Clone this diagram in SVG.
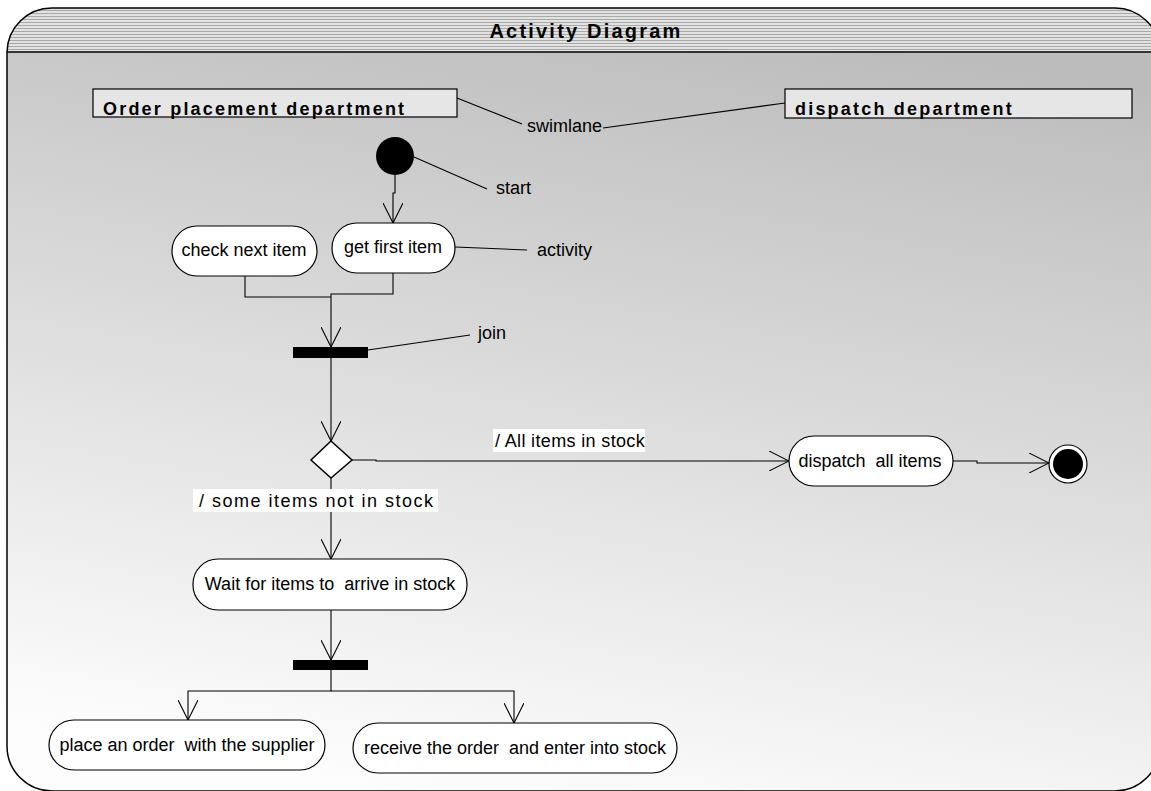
<svg xmlns="http://www.w3.org/2000/svg" width="1151" height="791" viewBox="0 0 1151 791">
<style>
text{font-family:"Liberation Sans",Arial,sans-serif;font-size:18px;fill:#000}
.b{font-weight:bold;letter-spacing:2.2px}
.pill{fill:#fff;stroke:#000;stroke-width:1.2}
.ln{fill:none;stroke:#000;stroke-width:1.1}
.lane{fill:#e6e6e6;stroke:#000;stroke-width:1.2}
.lbl{fill:#fff}
</style>
<defs>
<linearGradient id="body" x1="0.6" y1="0" x2="0.35" y2="1">
<stop offset="0" stop-color="#bcbcbc"/>
<stop offset="1" stop-color="#fdfdfd"/>
</linearGradient>
<pattern id="stripes" x="0" y="8" width="10" height="3" patternUnits="userSpaceOnUse">
<rect width="10" height="3" fill="#e2e2e2"/>
<rect y="2" width="10" height="1" fill="#a8a8a8"/>
</pattern>
<clipPath id="frameClip">
<path d="M7,52 A45,45 0 0 1 52,8 H1114 A45,45 0 0 1 1160,52 V746 A45,45 0 0 1 1115,791 H52 A45,45 0 0 1 7,746 Z"/>
</clipPath>
<marker id="arr" markerUnits="userSpaceOnUse" viewBox="0 0 20 20" refX="20" refY="10" markerWidth="20" markerHeight="20" orient="auto">
<path d="M0,0 L20,10 L0,20" fill="none" stroke="#000" stroke-width="1.1"/>
</marker>
</defs>

<g id="frame">
<path d="M7,52 A45,45 0 0 1 52,8 H1114 A45,45 0 0 1 1160,52 V746 A45,45 0 0 1 1115,791 H52 A45,45 0 0 1 7,746 Z" fill="url(#body)"/>
<rect x="0" y="8" width="1160" height="44" fill="url(#stripes)" clip-path="url(#frameClip)"/>
<line x1="7" y1="52" x2="1160" y2="52" stroke="#000" stroke-width="1.5"/>
<path d="M7,52 A45,45 0 0 1 52,8 H1114 A45,45 0 0 1 1160,52 V746 A45,45 0 0 1 1115,791 H52 A45,45 0 0 1 7,746 Z" fill="none" stroke="#000" stroke-width="1.5"/>
<text x="586" y="38" class="b" style="font-size:20px" text-anchor="middle">Activity Diagram</text>
</g>

<g id="lane-order">
<rect class="lane" x="93" y="89" width="364" height="28"/>
<text class="b" x="103" y="115">Order placement department</text>
</g>
<g id="lane-dispatch">
<rect class="lane" x="785" y="89" width="347" height="29"/>
<text class="b" x="795" y="115">dispatch department</text>
</g>

<g id="connectors">
<path class="ln" d="M457,98 L522,124"/>
<path class="ln" d="M603,128 L785,103"/>
<path class="ln" d="M414,157 L487,189"/>
<path class="ln" d="M455,247 L527,250"/>
<path class="ln" d="M368,350 L470,335"/>
<path class="ln" d="M395,175 V193 H393 V223" marker-end="url(#arr)"/>
<path class="ln" d="M245,276 V297 H331"/>
<path class="ln" d="M393,273 V294 H331 V347" marker-end="url(#arr)"/>
<path class="ln" d="M331,358 V441" marker-end="url(#arr)"/>
<path class="ln" d="M352,460 H376 V461 H789" marker-end="url(#arr)"/>
<path class="ln" d="M331,478 V559" marker-end="url(#arr)"/>
<path class="ln" d="M953,461 H977 V463 H1049" marker-end="url(#arr)"/>
<path class="ln" d="M331,610 V660" marker-end="url(#arr)"/>
<path class="ln" d="M331,670 V691 H188 V720" marker-end="url(#arr)"/>
<path class="ln" d="M331,691 H514 V723" marker-end="url(#arr)"/>
</g>

<g id="note-swimlane"><text x="527" y="132">swimlane</text></g>
<g id="note-start"><text x="496" y="194">start</text></g>
<g id="note-activity"><text x="537" y="256">activity</text></g>
<g id="note-join"><text x="478" y="339">join</text></g>

<g id="start">
<circle cx="395" cy="156" r="19" fill="#000"/>
</g>
<g id="get-first-item">
<rect class="pill" x="332" y="223" width="123" height="50" rx="25"/>
<text x="393" y="253" text-anchor="middle">get first item</text>
</g>
<g id="check-next-item">
<rect class="pill" x="172" y="226" width="145" height="50" rx="25"/>
<text x="244" y="256" text-anchor="middle">check next item</text>
</g>
<g id="join">
<rect x="293" y="347" width="75" height="11" fill="#000"/>
</g>
<g id="decision">
<path d="M331,441 L352,460 L331,478 L311,460 Z" fill="#fff" stroke="#000" stroke-width="1.5"/>
</g>
<g id="label-all">
<rect class="lbl" x="493" y="429" width="152" height="23"/>
<text x="495" y="447" style="letter-spacing:0.35px">/ All items in stock</text>
</g>
<g id="label-some">
<rect class="lbl" x="193" y="489" width="245" height="23"/>
<text x="199" y="507" textLength="234" lengthAdjust="spacing">/ some items not in stock</text>
</g>
<g id="dispatch-all-items">
<rect class="pill" x="789" y="436" width="164" height="50" rx="25"/>
<text x="870" y="467" text-anchor="middle" xml:space="preserve">dispatch  all items</text>
</g>
<g id="end">
<circle cx="1068" cy="464" r="19" fill="#fff" stroke="#000" stroke-width="1.2"/>
<circle cx="1068" cy="464" r="15" fill="#000"/>
</g>
<g id="wait">
<rect class="pill" x="193" y="559" width="274" height="51" rx="25"/>
<text x="330" y="590" text-anchor="middle" xml:space="preserve">Wait for items to  arrive in stock</text>
</g>
<g id="fork">
<rect x="293" y="660" width="75" height="10" fill="#000"/>
</g>
<g id="place-order">
<rect class="pill" x="49" y="720" width="276" height="50" rx="25"/>
<text x="187" y="751" text-anchor="middle" xml:space="preserve">place an order  with the supplier</text>
</g>
<g id="receive-order">
<rect class="pill" x="353" y="723" width="324" height="50" rx="25"/>
<text x="515" y="754" text-anchor="middle" xml:space="preserve">receive the order  and enter into stock</text>
</g>
</svg>
